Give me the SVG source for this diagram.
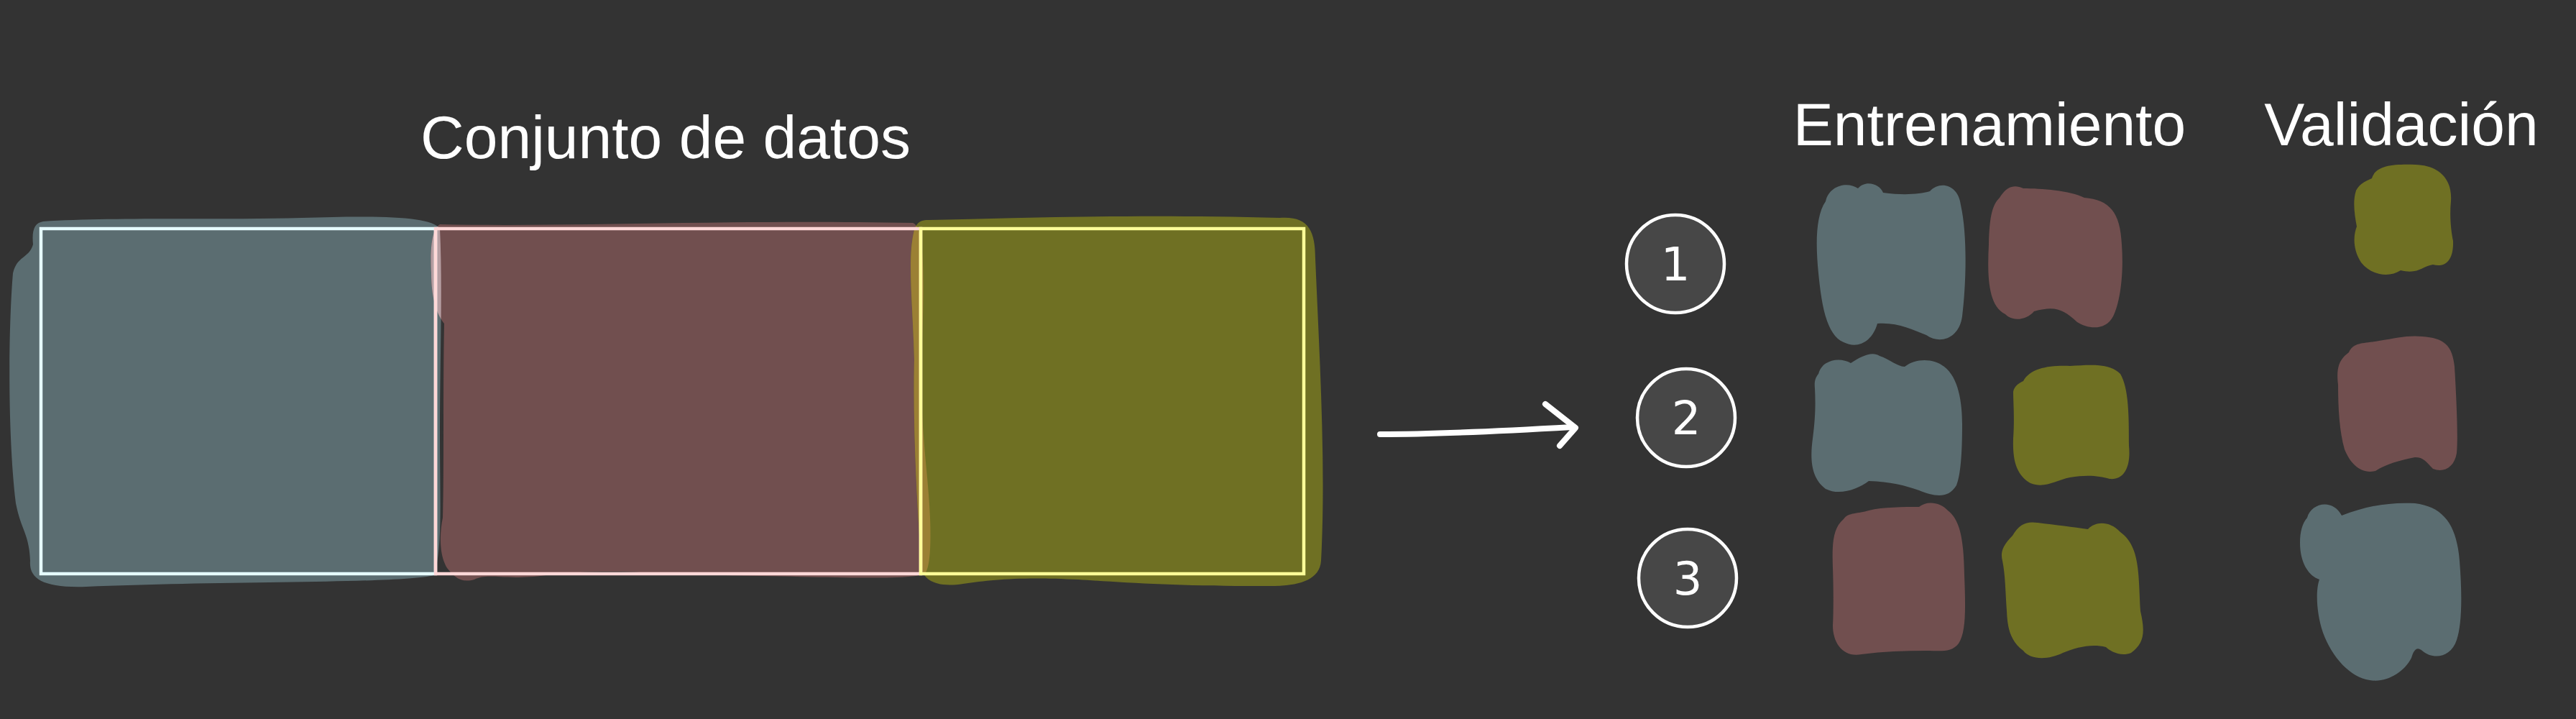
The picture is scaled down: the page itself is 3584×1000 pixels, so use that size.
<svg xmlns="http://www.w3.org/2000/svg" width="3584" height="1000" viewBox="0 0 3584 1000">
<style>
.lbl{font-family:"Liberation Sans",Arial,sans-serif;font-size:84px;fill:#ffffff;text-anchor:middle}
.num{font-family:"DejaVu Sans","Liberation Sans",sans-serif;font-size:64px;fill:#ffffff;text-anchor:middle}
.circ{fill:#474747;stroke:#ffffff;stroke-width:4.5}
.blue{fill:#5b6d71}
.red{fill:#714f4f}
.olive{fill:#6f7023}
.conn{fill:none;stroke:#ffffff;stroke-width:8;stroke-linecap:round;stroke-linejoin:round}
</style>
<defs>
<path id="bigBlue" d="M 60 308 C 150 302, 300 306, 420 303 C 520 300, 600 300, 612 318 C 616 400, 612 500, 612 600 C 612 700, 616 760, 604 800 C 560 812, 300 808, 120 816 C 60 818, 40 805, 42 780 C 40 740, 30 740, 22 700 C 10 600, 12 450, 18 380 C 24 355, 40 360, 46 340 C 44 320, 48 310, 60 308 Z"/>
<path id="bigRed" d="M 612 312 C 800 316, 1000 305, 1270 310 C 1288 316, 1286 400, 1282 500 C 1280 600, 1292 660, 1294 720 C 1296 770, 1292 800, 1284 798 C 1270 808, 1150 802, 1000 800 C 900 798, 850 790, 760 800 C 700 808, 680 796, 660 806 C 640 812, 630 800, 622 790 C 610 770, 612 740, 616 720 C 618 650, 616 560, 618 450 C 610 440, 600 420, 600 380 C 598 340, 602 318, 612 312 Z"/>
<path id="bigOlive" d="M 1292 306 C 1450 302, 1600 298, 1780 303 C 1820 300, 1830 320, 1830 360 C 1836 500, 1845 650, 1838 780 C 1836 810, 1800 816, 1760 815 C 1650 816, 1560 810, 1500 806 C 1420 802, 1380 806, 1340 812 C 1300 818, 1285 805, 1282 790 C 1276 700, 1270 600, 1272 500 C 1270 420, 1262 360, 1272 320 C 1276 308, 1282 306, 1292 306 Z"/>
<clipPath id="clipOlive"><use href="#bigOlive"/></clipPath>
<clipPath id="clipBlue"><use href="#bigBlue"/></clipPath>
</defs>
<rect width="3584" height="1000" fill="#333333"/>

<g id="dataset">
<use href="#bigBlue" class="blue"/>
<use href="#bigRed" class="red"/>
<use href="#bigOlive" class="olive"/>
<g clip-path="url(#clipOlive)"><use href="#bigRed" fill="#9b8034"/></g>
<g clip-path="url(#clipBlue)"><use href="#bigRed" fill="#b59ea2"/></g>
<rect x="57" y="318" width="549" height="480" fill="none" stroke="#e6fcff" stroke-width="4.5"/>
<rect x="606" y="318" width="675" height="480" fill="none" stroke="#ffd8d8" stroke-width="4.5"/>
<rect x="1281" y="318" width="533" height="480" fill="none" stroke="#ffff99" stroke-width="4.5"/>
<text class="lbl" x="926" y="220">Conjunto de datos</text>
</g>

<g id="headers">
<text class="lbl" x="2768" y="202">Entrenamiento</text>
<text class="lbl" x="3341" y="202">Validación</text>
</g>

<g id="fold1">
<circle class="circ" cx="2331" cy="367" r="68"/>
<text class="num" x="2331" y="390">1</text>
<path class="blue" d="M 2540 280 C 2545 258, 2570 252, 2585 262 C 2595 250, 2615 255, 2620 268 C 2650 272, 2670 270, 2685 266 C 2700 250, 2725 258, 2728 285 C 2738 330, 2735 400, 2730 440 C 2726 470, 2700 480, 2680 466 C 2660 458, 2640 448, 2612 450 C 2605 475, 2585 486, 2565 476 C 2540 465, 2534 420, 2530 380 C 2526 340, 2526 300, 2540 280 Z"/>
<path class="red" d="M 2782 275 C 2790 262, 2800 255, 2815 262 C 2840 262, 2880 265, 2900 275 C 2935 278, 2950 295, 2952 340 C 2955 380, 2950 420, 2940 440 C 2930 460, 2905 458, 2890 448 C 2870 430, 2860 425, 2830 433 C 2820 445, 2800 448, 2790 437 C 2765 425, 2765 380, 2767 340 C 2768 300, 2772 285, 2782 275 Z"/>
<path class="olive" d="M 3300 248 C 3305 230, 3330 228, 3360 229 C 3395 230, 3412 250, 3410 280 C 3408 300, 3410 320, 3413 335 C 3414 365, 3400 372, 3385 368 C 3370 370, 3365 382, 3340 376 C 3325 386, 3300 384, 3285 365 C 3272 345, 3275 325, 3279 315 C 3276 300, 3273 280, 3278 265 C 3283 255, 3292 252, 3300 248 Z"/>
</g>

<g id="fold2">
<circle class="circ" cx="2346" cy="581" r="68"/>
<text class="num" x="2346" y="604">2</text>
<path class="blue" d="M 2530 520 C 2535 500, 2560 496, 2575 505 C 2590 495, 2605 488, 2615 495 C 2630 500, 2640 510, 2650 510 C 2665 498, 2690 498, 2705 510 C 2725 525, 2730 560, 2730 590 C 2730 630, 2728 660, 2722 675 C 2710 695, 2690 690, 2670 682 C 2650 675, 2630 670, 2600 669 C 2585 680, 2560 690, 2540 680 C 2520 665, 2518 640, 2522 610 C 2526 580, 2526 560, 2525 540 C 2524 530, 2526 525, 2530 520 Z"/>
<path class="olive" d="M 2815 530 C 2825 512, 2850 508, 2880 509 C 2910 507, 2935 505, 2950 520 C 2962 540, 2962 580, 2962 620 C 2965 650, 2955 668, 2935 666 C 2920 662, 2905 660, 2880 664 C 2860 668, 2845 680, 2825 672 C 2805 660, 2800 640, 2801 610 C 2803 580, 2801 560, 2801 545 C 2802 538, 2808 533, 2815 530 Z"/>
<path class="red" d="M 3268 490 C 3275 475, 3290 478, 3310 474 C 3335 470, 3350 466, 3370 468 C 3400 470, 3412 480, 3415 510 C 3418 560, 3420 610, 3418 630 C 3415 650, 3400 658, 3385 652 C 3375 642, 3372 636, 3360 636 C 3340 640, 3320 645, 3305 655 C 3285 660, 3270 645, 3262 625 C 3255 600, 3253 570, 3253 535 C 3250 510, 3255 500, 3268 490 Z"/>
</g>

<g id="fold3">
<circle class="circ" cx="2348" cy="804" r="68"/>
<text class="num" x="2348" y="827">3</text>
<path class="red" d="M 2565 722 C 2572 712, 2585 715, 2600 710 C 2620 705, 2650 705, 2670 705 C 2680 696, 2700 698, 2710 710 C 2730 725, 2732 760, 2733 800 C 2735 850, 2735 880, 2725 895 C 2715 908, 2700 905, 2680 905 C 2650 905, 2620 906, 2590 910 C 2565 915, 2550 895, 2550 870 C 2551 850, 2551 820, 2550 790 C 2549 760, 2549 735, 2565 722 Z"/>
<path class="olive" d="M 2800 745 C 2810 728, 2820 725, 2835 727 C 2860 730, 2885 733, 2905 736 C 2915 725, 2935 724, 2950 740 C 2978 760, 2975 800, 2978 850 C 2985 880, 2983 895, 2965 908 C 2950 914, 2935 905, 2930 900 C 2910 895, 2890 900, 2870 908 C 2850 918, 2825 918, 2815 905 C 2795 890, 2793 870, 2792 850 C 2790 820, 2790 800, 2786 780 C 2782 765, 2790 755, 2800 745 Z"/>
<path class="blue" d="M 3210 720 C 3215 700, 3245 692, 3258 717 C 3290 705, 3320 698, 3360 700 C 3400 705, 3418 730, 3422 780 C 3426 830, 3425 870, 3418 890 C 3410 915, 3385 918, 3370 905 C 3362 898, 3358 905, 3355 915 C 3345 935, 3320 950, 3297 946 C 3270 942, 3245 915, 3232 880 C 3222 850, 3222 820, 3227 806 C 3210 800, 3200 780, 3200 755 C 3200 740, 3203 728, 3210 720 Z"/>
</g>

<g id="connectors">
<path class="conn" d="M 1920 604 C 2000 604, 2100 599, 2187 594"/>
<path class="conn" d="M 2150 562 L 2192 595 L 2170 620"/>
</g>
</svg>
